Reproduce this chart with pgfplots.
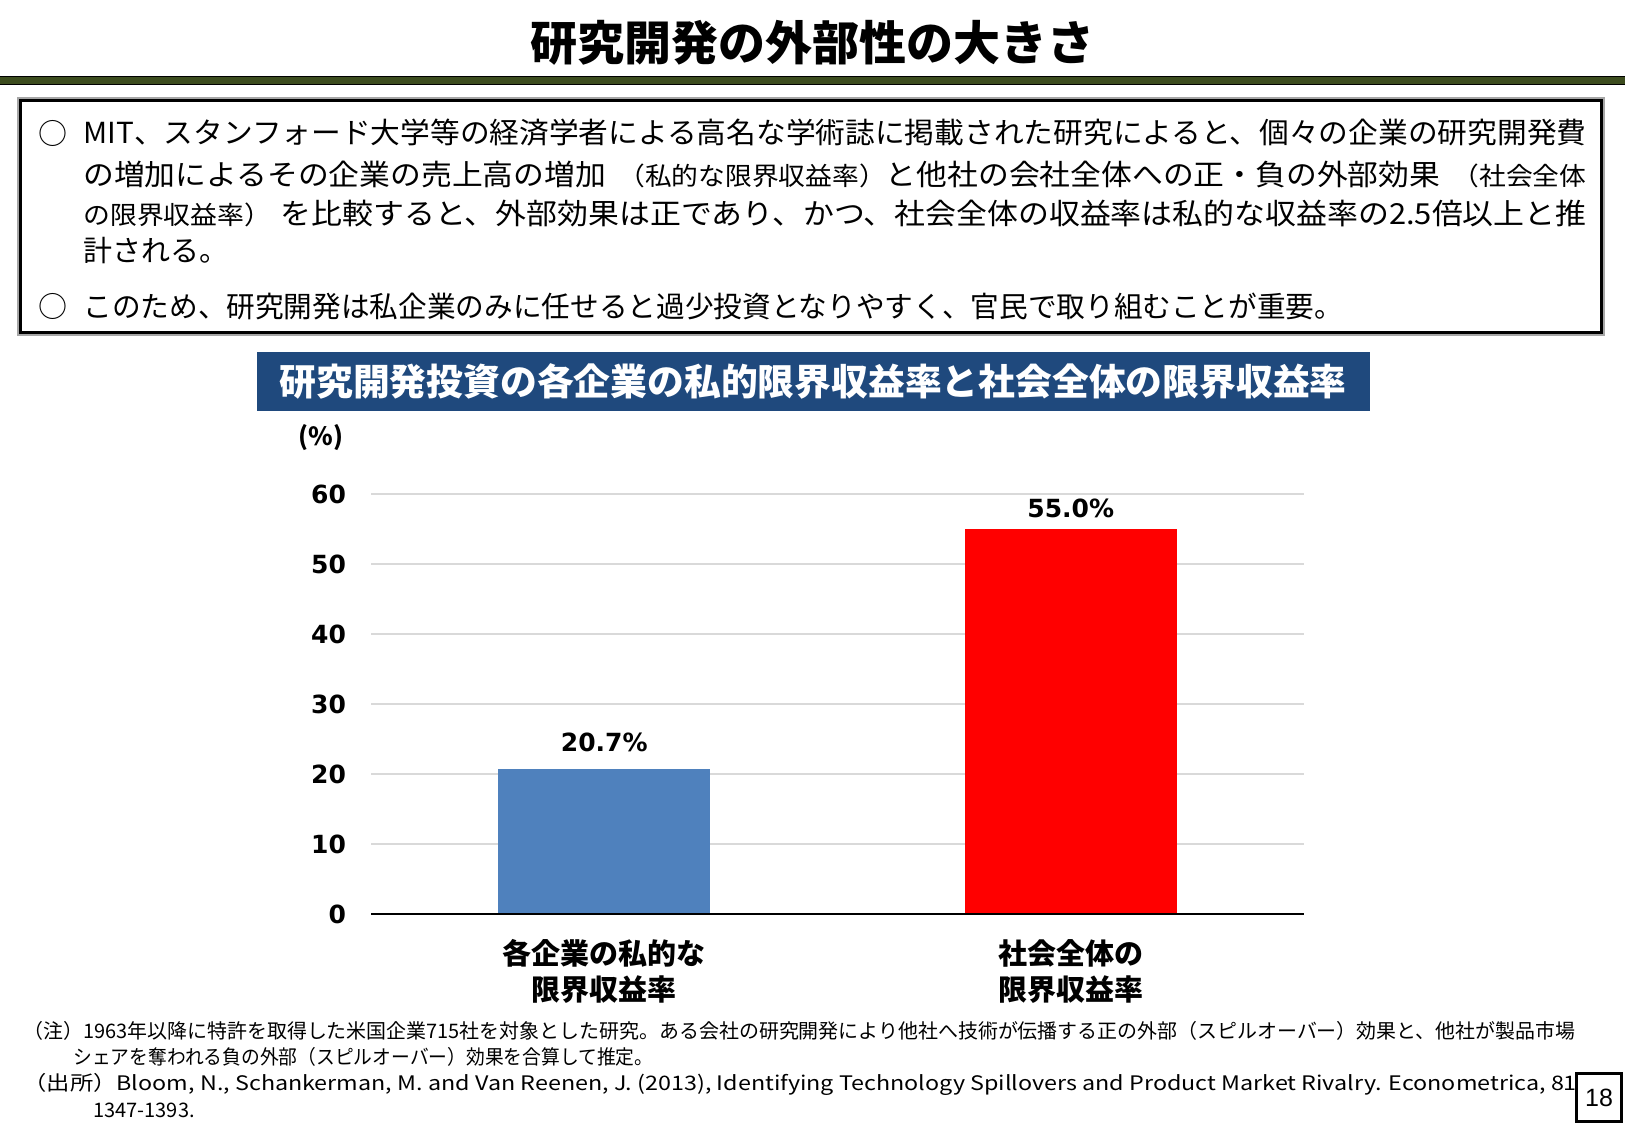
\documentclass[border=0pt]{standalone}
\usepackage{fontspec}
\usepackage{graphicx}
\usepackage{pgfplots}
\pgfplotsset{compat=1.18}
\setmainfont{Noto Sans CJK JP}
\newfontfamily\vfont{DejaVu Sans}
\newfontfamily\afont{Liberation Sans}
\definecolor{band}{RGB}{60,76,30}
\definecolor{navy}{RGB}{31,73,125}
\definecolor{barblue}{RGB}{79,129,189}
\definecolor{gridgray}{RGB}{217,217,217}
\newcommand{\bodyf}{\fontsize{14.5}{17}\selectfont}
\newcommand{\smallf}{\fontsize{12.6}{14}\selectfont}
\newcommand{\notef}{\fontsize{10}{12}\selectfont}
\begin{document}
\begin{tikzpicture}
\begin{scope}[x=0.5pt,y=-0.5pt]
\useasboundingbox (0,0) rectangle (1625,1125);
% title
\node[font=\fontsize{23.5}{28}\selectfont\bfseries] at (812,43) {研究開発の外部性の大きさ};
\fill[band] (0,76) rectangle (1625,85);
\draw[black,line width=0.5pt] (0,76.5)--(1625,76.5);
\draw[black,line width=0.5pt] (0,84.5)--(1625,84.5);
% text box
\draw[gray!70,line width=1pt] (18,98) rectangle (1604,335);
\draw[black,line width=1.5pt] (20.5,100.5) rectangle (1601.5,332.5);
\node[font=\bodyf] at (53,133) {○};
\node[font=\bodyf] at (53,306) {○};
\node[anchor=west,inner sep=0pt,font=\bodyf] at (83,133) {\resizebox{751.5pt}{\height}{MIT、スタンフォード大学等の経済学者による高名な学術誌に掲載された研究によると、個々の企業の研究開発費}};
\node[anchor=west,inner sep=0pt,font=\bodyf] at (83,174) {\resizebox{751.5pt}{\height}{の増加によるその企業の売上高の増加\hspace{0.4em}{\smallf（私的な限界収益率）}と他社の会社全体への正・負の外部効果\hspace{0.4em}{\smallf（社会全体}}};
\node[anchor=west,inner sep=0pt,font=\bodyf] at (83,213) {\resizebox{751.5pt}{\height}{{\smallf の限界収益率）}\hspace{0.3em}を比較すると、外部効果は正であり、かつ、社会全体の収益率は私的な収益率の2.5倍以上と推}};
\node[anchor=west,inner sep=0pt,font=\bodyf] at (83,251) {計される。};
\node[anchor=west,inner sep=0pt,font=\bodyf] at (83,306) {\scalebox{0.988}[1]{このため、研究開発は私企業のみに任せると過少投資となりやすく、官民で取り組むことが重要。}};
% chart title
\fill[navy] (257,352) rectangle (1370,411);
\node[text=white,font=\fontsize{18.4}{22}\selectfont\bfseries] at (813,381) {研究開発投資の各企業の私的限界収益率と社会全体の限界収益率};
\node[font=\fontsize{12.5}{15}\selectfont\bfseries] at (321,438) {(\%)};
% footnotes
\node[anchor=west,inner sep=0pt,font=\notef] at (23,1031) {\resizebox{776pt}{\height}{（注）1963年以降に特許を取得した米国企業715社を対象とした研究。ある会社の研究開発により他社へ技術が伝播する正の外部（スピルオーバー）効果と、他社が製品市場}};
\node[anchor=west,inner sep=0pt,font=\notef] at (73,1057) {\resizebox{290pt}{\height}{シェアを奪われる負の外部（スピルオーバー）効果を合算して推定。}};
\node[anchor=west,inner sep=0pt,font=\notef] at (23,1084) {\resizebox{780pt}{\height}{（出所）Bloom, N., Schankerman, M. and Van Reenen, J. (2013), Identifying Technology Spillovers and Product Market Rivalry. Econometrica, 81:}};
\node[anchor=west,inner sep=0pt,font=\notef] at (93,1110) {1347-1393.};
\draw[black,line width=1.5pt,fill=white] (1576.5,1073.5) rectangle (1621.5,1121.5);
\node[font=\afont\fontsize{12.5}{15}\selectfont] at (1599,1098) {18};
\end{scope}
\begin{axis}[
  at={(185.5pt,-457pt)}, anchor=south west,
  scale only axis, width=466.5pt, height=210pt,
  xmin=-0.5, xmax=1.5, ymin=0, ymax=60,
  ybar, bar width=106pt, bar shift=0pt,
  axis line style={draw=none},
  major tick length=0pt,
  xtick={0,1},
  xticklabels={{各企業の私的な\\限界収益率},{社会全体の\\限界収益率}},
  xticklabel style={align=center,font=\fontsize{14.5}{18}\selectfont\bfseries,yshift=-9pt},
  ytick={0,10,...,60},
  yticklabel style={font=\vfont\bfseries\fontsize{12.5}{15}\selectfont,xshift=-9pt},
  /pgf/number format/assume math mode=true,
  ymajorgrids, grid style={gridgray,line width=0.75pt},
  nodes near coords={\pgfmathprintnumber[fixed,fixed zerofill,precision=1]{\pgfplotspointmeta}\%},
  every node near coord/.append style={font=\vfont\bfseries\fontsize{12.5}{15}\selectfont,/pgf/number format/assume math mode=true},
]
\addplot[fill=barblue,draw=none,every node near coord/.append style={yshift=5pt}] coordinates {(0,20.7)};
\addplot[fill=red,draw=none,every node near coord/.append style={yshift=2pt}] coordinates {(1,55.0)};
\draw[black,line width=1pt] (-0.5,0) -- (1.5,0);
\end{axis}
\end{tikzpicture}
\end{document}
